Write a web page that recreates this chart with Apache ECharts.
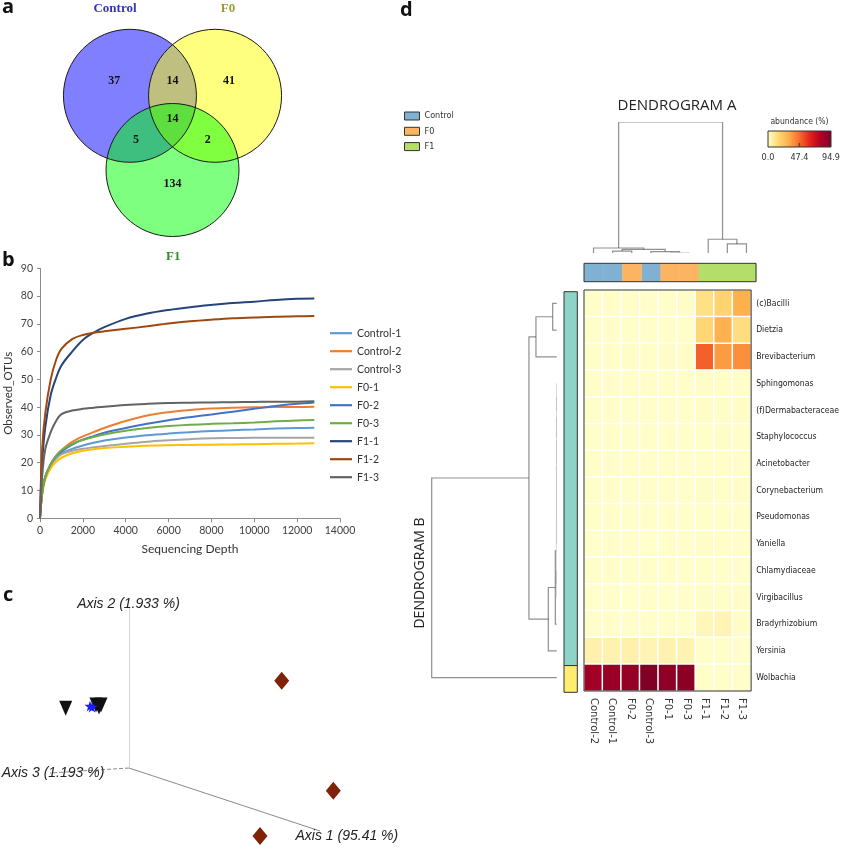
<!DOCTYPE html>
<html>
<head>
<meta charset="utf-8">
<script src="https://cdn.jsdelivr.net/npm/echarts@6.0.0/dist/echarts.min.js"></script>
<style>
html,body{margin:0;padding:0;background:#ffffff;}
#chart{width:842px;height:850px;}
</style>
</head>
<body>
<div id="chart"></div>
<script>
// ===================== DATA =====================
// ---- Panel a: Venn diagram ----
const vennSets = ['Control', 'F0', 'F1'];
const vennCenters = [[-0.64, 0.364], [0.64, 0.364], [0, -0.752]];
const vennRadius = 1;
// regions: Control only, Control&F0, F0 only, all three, Control&F1, F0&F1, F1 only
const vennCounts = [37, 14, 41, 14, 5, 2, 134];

// ---- Panel b: rarefaction curves ----
const depth = [0, 100, 250, 500, 750, 1000, 1500, 2000, 2500, 3000, 4000, 5000, 6000, 7000, 8000, 9000, 10000, 11000, 12000, 12800];
const rareNames = ['Control-1', 'Control-2', 'Control-3', 'F0-1', 'F0-2', 'F0-3', 'F1-1', 'F1-2', 'F1-3'];
const control1 = [0, 9, 15, 19, 21.7, 23.3, 25, 26.2, 27.2, 28, 29.1, 29.9, 30.5, 31, 31.4, 31.7, 32, 32.3, 32.5, 32.6];
const control2 = [0, 9, 15, 19.5, 22.5, 24.5, 27.5, 29.5, 31, 32.5, 35, 37, 38.2, 39, 39.5, 39.8, 40, 40.1, 40.1, 40.2];
const control3 = [0, 9, 15, 19, 21.5, 23, 24.3, 25, 25.6, 26, 26.8, 27.6, 28.1, 28.5, 28.8, 28.9, 29, 29, 29, 29];
const f0_1 = [0, 8.5, 14, 18, 20.3, 21.8, 23.4, 24.3, 24.9, 25.3, 25.8, 26.1, 26.3, 26.4, 26.5, 26.6, 26.7, 26.8, 26.9, 27];
const f0_2 = [0, 9, 15, 19.5, 22.3, 24, 26.5, 28.3, 29.6, 30.8, 32.5, 34, 35.3, 36.4, 37.4, 38.4, 39.4, 40.4, 41.2, 41.7];
const f0_3 = [0, 9, 15, 19.5, 22.5, 24.5, 26.8, 28.2, 29.3, 30.2, 31.5, 32.5, 33.2, 33.7, 34, 34.2, 34.5, 34.9, 35.2, 35.4];
const f1_1 = [0, 20, 33, 44.4, 50.5, 55, 60, 64.2, 66.8, 68.8, 71.8, 73.7, 75, 76, 76.8, 77.5, 78, 78.6, 79, 79.1];
const f1_2 = [0, 25, 38, 50, 57, 61, 64.5, 66, 66.8, 67.3, 68.2, 69.1, 70.1, 70.9, 71.5, 72, 72.3, 72.6, 72.7, 72.8];
const f1_3 = [0, 15, 25, 31, 35, 37.5, 38.8, 39.4, 39.8, 40.2, 40.8, 41.2, 41.5, 41.6, 41.7, 41.8, 41.9, 42, 42, 42.1];
const rareValues = [control1, control2, control3, f0_1, f0_2, f0_3, f1_1, f1_2, f1_3];
const rareXTicks = [0, 14000, 2000];   // min, max, step
const rareYTicks = [0, 90, 10];

// ---- Panel c: PCoA (projected coordinates) ----
const pcoaControl = [[-0.39, 0.62], [-0.37, 0.61]];
const pcoaF0 = [[-0.633, 0.597], [-0.33, 0.63], [-0.28, 0.63], [-0.30, 0.61]];
const pcoaF1 = [[1.527, 0.873], [2.043, -0.227], [1.31, -0.68]];
const pcoaAxisNames = ['Axis 1 (95.41 %)', 'Axis 2 (1.933 %)', 'Axis 3 (1.193 %)'];
const pcoaAxisEnds = [[1.91, -0.63], [0, 1.6], [-0.79, -0.05]];

// ---- Panel d: heatmap ----
const colNames = ['Control-2', 'Control-1', 'F0-2', 'Control-3', 'F0-1', 'F0-3', 'F1-1', 'F1-2', 'F1-3'];
const colGroups = ['Control', 'Control', 'F0', 'Control', 'F0', 'F0', 'F1', 'F1', 'F1'];
const groupNames = ['Control', 'F0', 'F1'];
const rowNames = ['(c)Bacilli', 'Dietzia', 'Brevibacterium', 'Sphingomonas', '(f)Dermabacteraceae', 'Staphylococcus',
  'Acinetobacter', 'Corynebacterium', 'Pseudomonas', 'Yaniella', 'Chlamydiaceae', 'Virgibacillus',
  'Bradyrhizobium', 'Yersinia', 'Wolbachia'];
const rowClusters = [1, 1, 1, 1, 1, 1, 1, 1, 1, 1, 1, 1, 1, 1, 2];
const heatValues = [
  [0.6, 0.5, 0.8, 0.4, 0.7, 0.9, 13, 18, 31],
  [0.3, 0.4, 0.5, 0.3, 0.6, 0.8, 17, 30, 14],
  [0.8, 0.6, 0.9, 0.5, 1.0, 1.2, 50, 36, 39],
  [0.5, 0.4, 0.6, 0.4, 0.5, 0.6, 0.9, 0.8, 0.7],
  [0.3, 0.3, 0.4, 0.3, 0.4, 0.4, 1.2, 1.0, 1.1],
  [0.4, 0.5, 0.4, 0.6, 0.4, 0.5, 0.8, 0.9, 0.7],
  [0.5, 0.4, 0.6, 0.3, 0.5, 0.4, 0.6, 0.7, 0.6],
  [0.3, 0.4, 0.3, 0.4, 0.5, 0.3, 1.0, 0.8, 0.9],
  [0.6, 0.5, 0.4, 0.5, 0.4, 0.6, 0.5, 0.6, 0.5],
  [0.2, 0.3, 0.3, 0.2, 0.3, 0.4, 0.9, 0.7, 0.8],
  [0.3, 0.4, 0.3, 0.5, 0.4, 0.3, 0.5, 0.6, 0.4],
  [0.2, 0.3, 0.2, 0.3, 0.2, 0.3, 0.9, 0.8, 1.0],
  [0.4, 0.5, 0.4, 0.3, 0.5, 0.4, 3.5, 4.5, 1.2],
  [6.0, 5.5, 6.0, 4.5, 5.5, 4.8, 0.6, 0.5, 0.4],
  [84, 87, 88, 94.9, 90, 91, 0.8, 0.7, 0.6]
];
// linkage: [childA, childB, height]; indices >= nLeaves refer to earlier merges
const colLinkage = [
  [4, 5, 0.003], [1, 2, 0.015], [3, 9, 0.011], [10, 11, 0.027], [0, 12, 0.038],
  [7, 8, 0.069], [6, 14, 0.105], [13, 15, 1.0]
];
const rowLinkage = [
  [0, 1, 0.032], [15, 2, 0.166],
  [3, 4, 0.002], [17, 5, 0.002], [18, 6, 0.002], [19, 7, 0.002], [20, 8, 0.002], [21, 9, 0.002],
  [10, 11, 0.002], [22, 23, 0.003], [24, 12, 0.011], [25, 13, 0.067],
  [16, 26, 0.222], [27, 14, 1.0]
];
const colorbarTicks = [0.0, 47.4, 94.9];

// ===================== STYLES =====================
const rareColors = ['#5b9bd5', '#ed7d31', '#a5a5a5', '#ffc000', '#4472c4', '#70ad47', '#264478', '#9e480e', '#636363'];
const vennFills = ['rgba(0,0,255,0.5)', 'rgba(255,255,0,0.5)', 'rgba(0,255,0,0.5)'];
const vennTitleColors = ['#3434b4', '#9a9a3c', '#2e8c2e'];
const vennTitlePos = [[-0.865, 1.68], [0.835, 1.68], [0.01, -2.06]];
const vennCountPos = [[-0.875, 0.586], [0, 0.586], [0.85, 0.586], [0, 0.015], [-0.55, -0.3], [0.53, -0.3], [0, -0.96]];
const groupColors = { Control: '#80b1d3', F0: '#fdb462', F1: '#b3de69' };
const clusterColors = { 1: '#8dd3c7', 2: '#ffed6f' };
const heatColors = ['#ffffcc', '#fed976', '#fdae4a', '#f86b2d', '#e3211c', '#b10026', '#800026'];
const cond = '"DejaVu Sans Condensed", "DejaVu Sans", sans-serif';

// ===================== HELPERS =====================
function dendroSegments(linkage, nLeaves, vertical) {
  const pos = [], hgt = [];
  for (let i = 0; i < nLeaves; i++) { pos.push(i + 0.5); hgt.push(0); }
  const segs = [];
  linkage.forEach(([a, b, h]) => {
    const pa = pos[a], pb = pos[b], ha = hgt[a], hb = hgt[b];
    const pts = [[pa, ha], [pa, h], [pb, h], [pb, hb]];
    segs.push({
      coords: vertical ? pts : pts.map(([p, v]) => [v, p]),
      lineStyle: h < 0.005 ? { color: '#a0a0a0', width: 0.8 } : { color: '#222', width: 1.2 }
    });
    pos.push((pa + pb) / 2); hgt.push(h);
  });
  return segs;
}
function runs(arr) {
  const out = []; let s = 0;
  for (let i = 1; i <= arr.length; i++) {
    if (i === arr.length || arr[i] !== arr[s]) { out.push([s, i, arr[s]]); s = i; }
  }
  return out;
}

// ===================== SERIES =====================
const series = [];
// Panel b lines
rareNames.forEach((n, k) => {
  series.push({
    type: 'line', name: n, xAxisIndex: 0, yAxisIndex: 0,
    data: depth.map((d, i) => [d, rareValues[k][i]]),
    symbol: 'none', showSymbol: false, smooth: 0.35,
    lineStyle: { width: 2, color: rareColors[k] }, itemStyle: { color: rareColors[k] }, z: 3
  });
});
// Panel d heatmap
const heatIndex = series.length;
const heatData = [];
heatValues.forEach((row, r) => row.forEach((v, c) => heatData.push([c, r, v])));
series.push({
  type: 'heatmap', xAxisIndex: 1, yAxisIndex: 1, data: heatData,
  itemStyle: { borderColor: '#ffffff', borderWidth: 1.5 }, emphasis: { disabled: true }, silent: true
});
// heatmap frame
series.push({
  type: 'custom', xAxisIndex: 1, yAxisIndex: 1, data: [[0, 0]], silent: true, z: 5,
  renderItem: (p, api) => {
    const c = api.coord([0, 0]); const s = api.size([1, 1]);
    return { type: 'rect', shape: { x: c[0] - s[0] / 2, y: c[1] - s[1] / 2, width: s[0] * colNames.length, height: s[1] * rowNames.length },
      style: { fill: 'none', stroke: '#333', lineWidth: 1 } };
  }
});
// column annotation bar
groupNames.forEach(g => {
  series.push({
    type: 'custom', name: g, xAxisIndex: 2, yAxisIndex: 2, silent: true,
    itemStyle: { color: groupColors[g] },
    data: colGroups.map((cg, i) => cg === g ? [i, 0] : null).filter(d => d),
    renderItem: (p, api) => {
      const i = api.value(0); const a = api.coord([i, 1]); const b = api.coord([i + 1, 0]);
      return { type: 'rect', shape: { x: a[0], y: a[1], width: b[0] - a[0] + 0.4, height: b[1] - a[1] }, style: { fill: groupColors[g] } };
    }
  });
});
series.push({
  type: 'custom', xAxisIndex: 2, yAxisIndex: 2, data: [[0, 0]], silent: true, z: 5,
  renderItem: (p, api) => {
    const a = api.coord([0, 1]); const b = api.coord([colNames.length, 0]);
    return { type: 'rect', shape: { x: a[0], y: a[1], width: b[0] - a[0], height: b[1] - a[1] }, style: { fill: 'none', stroke: '#333', lineWidth: 1 } };
  }
});
// row annotation bar
series.push({
  type: 'custom', xAxisIndex: 3, yAxisIndex: 3, silent: true,
  data: runs(rowClusters),
  renderItem: (p, api) => {
    const s = api.value(0), e = api.value(1), cl = api.value(2);
    const a = api.coord([0, s]); const b = api.coord([1, e]);
    return { type: 'rect', shape: { x: a[0], y: a[1], width: b[0] - a[0], height: b[1] - a[1] },
      style: { fill: clusterColors[cl], stroke: '#333', lineWidth: 1 } };
  }
});
// dendrograms
series.push({ type: 'lines', coordinateSystem: 'cartesian2d', xAxisIndex: 4, yAxisIndex: 4, polyline: true, silent: true,
  data: dendroSegments(colLinkage, colNames.length, true) });
series.push({ type: 'lines', coordinateSystem: 'cartesian2d', xAxisIndex: 5, yAxisIndex: 5, polyline: true, silent: true,
  data: dendroSegments(rowLinkage, rowNames.length, false) });
// Panel a Venn
series.push({
  type: 'custom', xAxisIndex: 6, yAxisIndex: 6, silent: true, z: 2,
  data: vennCenters.map((c, i) => [c[0], c[1], i]),
  renderItem: (p, api) => {
    const c = api.coord([api.value(0), api.value(1)]); const r = api.size([vennRadius, 0])[0];
    return { type: 'circle', shape: { cx: c[0], cy: c[1], r: r }, style: { fill: vennFills[api.value(2)] } };
  }
});
series.push({
  type: 'custom', xAxisIndex: 6, yAxisIndex: 6, silent: true, z: 3,
  data: vennCenters.map((c, i) => [c[0], c[1], i]),
  renderItem: (p, api) => {
    const c = api.coord([api.value(0), api.value(1)]); const r = api.size([vennRadius, 0])[0];
    return { type: 'circle', shape: { cx: c[0], cy: c[1], r: r }, style: { fill: 'none', stroke: '#1a1a1a', lineWidth: 1 } };
  }
});
series.push({
  type: 'scatter', xAxisIndex: 6, yAxisIndex: 6, silent: true, z: 4, symbolSize: 1, itemStyle: { color: 'transparent', opacity: 1 },
  data: vennCounts.map((v, i) => ({ name: String(v), value: vennCountPos[i] })),
  label: { show: true, position: 'inside', formatter: '{b}', fontFamily: '"Liberation Serif", serif', fontWeight: 'bold', fontSize: 12, color: '#111', opacity: 1 }
});
series.push({
  type: 'scatter', xAxisIndex: 6, yAxisIndex: 6, silent: true, z: 4, symbolSize: 1, itemStyle: { color: 'transparent', opacity: 1 },
  data: vennSets.map((s, i) => ({ name: s, value: vennTitlePos[i], label: { color: vennTitleColors[i] } })),
  label: { show: true, position: 'inside', formatter: '{b}', fontFamily: '"Liberation Serif", serif', fontWeight: 'bold', fontSize: 13, opacity: 1 }
});
// Panel c PCoA
series.push({
  type: 'lines', coordinateSystem: 'cartesian2d', xAxisIndex: 7, yAxisIndex: 7, polyline: false, silent: true,
  data: [
    { coords: [[0, 0], pcoaAxisEnds[0]], lineStyle: { color: '#8a8a8a', width: 1, opacity: 1 } },
    { coords: [[0, 0], pcoaAxisEnds[1]], lineStyle: { color: '#d4d4d4', width: 1, opacity: 1 } },
    { coords: [[0, 0], pcoaAxisEnds[2]], lineStyle: { color: '#8a8a8a', width: 1, type: [4, 2], opacity: 1 } }
  ]
});
const pcoaLabelAnchor = [[1.66, -0.68, 'right'], [-0.005, 1.64, 'inside'], [-0.76, -0.05, 'inside']];
series.push({
  type: 'scatter', xAxisIndex: 7, yAxisIndex: 7, silent: true, symbolSize: 1, itemStyle: { color: 'transparent', opacity: 1 }, z: 2,
  data: pcoaAxisNames.map((n, i) => ({ name: n, value: pcoaLabelAnchor[i].slice(0, 2), label: { position: pcoaLabelAnchor[i][2], distance: 0 } })),
  label: { show: true, formatter: '{b}', fontFamily: '"Liberation Sans", Arial, sans-serif', fontStyle: 'italic', fontSize: 14, color: '#222', opacity: 1 }
});
series.push({ type: 'scatter', name: 'PCoA F0', xAxisIndex: 7, yAxisIndex: 7, silent: true, z: 4, data: pcoaF0,
  symbol: 'triangle', symbolRotate: 180, symbolSize: [13, 15], itemStyle: { color: '#101010', opacity: 1 } });
series.push({ type: 'scatter', name: 'PCoA Control', xAxisIndex: 7, yAxisIndex: 7, silent: true, z: 5, data: pcoaControl,
  symbol: 'path://M50,0 L61,35 L98,35 L68,57 L79,91 L50,70 L21,91 L32,57 L2,35 L39,35 Z', symbolSize: 11, itemStyle: { color: '#1c1cff', opacity: 1 } });
series.push({ type: 'scatter', name: 'PCoA F1', xAxisIndex: 7, yAxisIndex: 7, silent: true, z: 4, data: pcoaF1,
  symbol: 'diamond', symbolSize: [15, 18], itemStyle: { color: '#7f2208', opacity: 1 } });

// ===================== OPTION =====================
const axisTxt = { fontFamily: 'Lato, "Open Sans", sans-serif', fontSize: 10.5, color: '#404040' };
const cb = { x: 768, y: 131, w: 63, h: 16 };
const cbMax = colorbarTicks[colorbarTicks.length - 1];
const graphic = [
  { type: 'text', x: 2, y: 17, style: { text: 'a', font: 'bold 20px "Open Sans", sans-serif', fill: '#111', textVerticalAlign: 'bottom', verticalAlign: 'bottom' } },
  { type: 'text', x: 2, y: 270, style: { text: 'b', font: 'bold 20px "Open Sans", sans-serif', fill: '#111', textVerticalAlign: 'bottom', verticalAlign: 'bottom' } },
  { type: 'text', x: 3, y: 605, style: { text: 'c', font: 'bold 20px "Open Sans", sans-serif', fill: '#111', textVerticalAlign: 'bottom', verticalAlign: 'bottom' } },
  { type: 'text', x: 400, y: 20, style: { text: 'd', font: 'bold 20px "Open Sans", sans-serif', fill: '#111', textVerticalAlign: 'bottom', verticalAlign: 'bottom' } },
  { type: 'text', x: 677, y: 106, style: { text: 'DENDROGRAM A', font: '15px "Open Sans", sans-serif', fill: '#222', textAlign: 'center', align: 'center', textVerticalAlign: 'middle', verticalAlign: 'middle' } },
  { type: 'text', x: 420, y: 573, rotation: Math.PI / 2, style: { text: 'DENDROGRAM B', font: '14px "Open Sans", sans-serif', fill: '#222', textAlign: 'center', align: 'center', textVerticalAlign: 'middle', verticalAlign: 'middle' } },
  { type: 'text', x: cb.x + cb.w / 2, y: 121.5, style: { text: 'abundance (%)', font: '8.5px ' + cond, fill: '#333', textAlign: 'center', align: 'center', textVerticalAlign: 'middle', verticalAlign: 'middle' } },
  { type: 'rect', shape: { x: cb.x, y: cb.y, width: cb.w, height: cb.h },
    style: { fill: { type: 'linear', x: 0, y: 0, x2: 1, y2: 0, colorStops: heatColors.map((c, i) => ({ offset: i / (heatColors.length - 1), color: c })) }, stroke: '#333', lineWidth: 1 } }
];
colorbarTicks.forEach((t, i) => {
  const x = cb.x + cb.w * t / cbMax;
  graphic.push({ type: 'text', x: x, y: cb.y + cb.h + 11, style: { text: t.toFixed(1), font: '9px ' + cond, fill: '#333', textAlign: 'center', align: 'center', textVerticalAlign: 'middle', verticalAlign: 'middle' } });
  if (i > 0 && i < colorbarTicks.length - 1) {
    graphic.push({ type: 'rect', shape: { x: x - 0.75, y: cb.y + cb.h - 4, width: 1.5, height: 4 }, style: { fill: '#7a3a10' } });
  }
});

const option = {
  animation: false,
  backgroundColor: '#ffffff',
  textStyle: { fontFamily: '"Open Sans", sans-serif' },
  grid: [
    { left: 40, top: 268.3, width: 300, height: 250 },
    { left: 584, top: 290, width: 172, height: 401 },
    { left: 584, top: 263.3, width: 172, height: 18.4 },
    { left: 564, top: 291.7, width: 13.3, height: 400.6 },
    { left: 584, top: 122, width: 172, height: 131 },
    { left: 431.7, top: 290, width: 125, height: 401 },
    { left: 6.25, top: 0.3, width: 299.25, height: 266 },
    { left: 0, top: 590, width: 380, height: 260 }
  ],
  xAxis: [
    { type: 'value', gridIndex: 0, min: rareXTicks[0], max: rareXTicks[1], interval: rareXTicks[2],
      name: 'Sequencing Depth', nameLocation: 'middle', nameGap: 25,
      nameTextStyle: { fontFamily: 'Lato, sans-serif', fontSize: 12, color: '#333' },
      axisLine: { lineStyle: { color: '#8c8c8c' } }, axisTick: { show: true, length: 4, lineStyle: { color: '#8c8c8c' } },
      axisLabel: Object.assign({ margin: 7, formatter: v => String(v) }, axisTxt), splitLine: { show: false } },
    { type: 'category', gridIndex: 1, data: colNames, position: 'bottom',
      axisLine: { show: false }, axisTick: { show: false }, splitLine: { show: false },
      axisLabel: { interval: 0, rotate: -90, margin: 7, fontSize: 10, color: '#333', fontFamily: '"DejaVu Sans", sans-serif' } },
    { type: 'value', gridIndex: 2, min: 0, max: colNames.length, show: false },
    { type: 'value', gridIndex: 3, min: 0, max: 1, show: false },
    { type: 'value', gridIndex: 4, min: 0, max: colNames.length, show: false },
    { type: 'value', gridIndex: 5, min: 0, max: 1, inverse: true, show: false },
    { type: 'value', gridIndex: 6, min: -2.5, max: 2.0, show: false },
    { type: 'value', gridIndex: 7, min: -1.29, max: 2.51, show: false }
  ],
  yAxis: [
    { type: 'value', gridIndex: 0, min: rareYTicks[0], max: rareYTicks[1], interval: rareYTicks[2],
      name: 'Observed_OTUs', nameLocation: 'middle', nameGap: 26, nameRotate: 90,
      nameTextStyle: { fontFamily: 'Lato, sans-serif', fontSize: 11.5, color: '#333' },
      axisLine: { show: true, lineStyle: { color: '#8c8c8c' } }, axisTick: { show: true, length: 3, lineStyle: { color: '#8c8c8c' } },
      axisLabel: Object.assign({ margin: 7 }, axisTxt), splitLine: { show: false } },
    { type: 'category', gridIndex: 1, data: rowNames, inverse: true, position: 'right',
      axisLine: { show: false }, axisTick: { show: false }, splitLine: { show: false },
      axisLabel: { interval: 0, margin: 5, fontSize: 8.6, color: '#222', fontFamily: cond } },
    { type: 'value', gridIndex: 2, min: 0, max: 1, show: false },
    { type: 'value', gridIndex: 3, min: 0, max: rowNames.length, inverse: true, show: false },
    { type: 'value', gridIndex: 4, min: 0, max: 1, show: false },
    { type: 'value', gridIndex: 5, min: 0, max: rowNames.length, inverse: true, show: false },
    { type: 'value', gridIndex: 6, min: -2.2, max: 1.8, show: false },
    { type: 'value', gridIndex: 7, min: -0.82, max: 1.78, show: false }
  ],
  legend: [
    { data: rareNames, orient: 'vertical', left: 330, top: 327.7, padding: 0, itemWidth: 22, itemHeight: 2.2, itemGap: 7,
      icon: 'rect', selectedMode: false, textStyle: { fontFamily: 'Lato, sans-serif', fontSize: 10.5, lineHeight: 10, color: '#333' } },
    { data: groupNames, orient: 'vertical', left: 404, top: 111, padding: 0, itemWidth: 15, itemHeight: 8, itemGap: 5.3,
      icon: 'rect', selectedMode: false, itemStyle: { borderColor: '#333', borderWidth: 1 },
      textStyle: { fontFamily: cond, fontSize: 9, lineHeight: 10, color: '#333' } }
  ],
  visualMap: [{ type: 'continuous', show: false, seriesIndex: heatIndex, min: 0, max: cbMax, inRange: { color: heatColors } }],
  graphic: graphic,
  series: series
};
const chart = echarts.init(document.getElementById('chart'), null, { renderer: 'canvas', width: 842, height: 850 });
chart.setOption(option);
</script>
</body>
</html>
